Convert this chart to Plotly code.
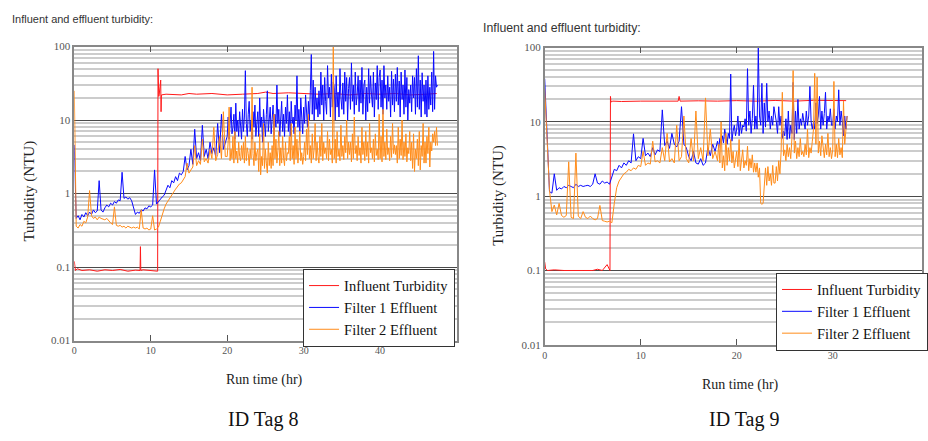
import plotly.graph_objects as go

# ---------------- ID Tag 8 ----------------
# Loggers store every 0.25 h for the first 20 h, then every 0.125 h.
T8_EARLY_STEP = 0.25
T8_LATE_START = 20.0
T8_LATE_STEP = 0.125

FILTER1_TAG8_EARLY = [
    4.6, 0.46, 0.5, 0.44, 0.52, 0.48, 0.55, 0.5,
    0.56, 0.52, 0.6, 0.55, 0.58, 1.5, 0.6, 0.56,
    0.64, 0.7, 0.66, 0.74, 0.7, 0.78, 0.74, 0.82,
    0.8, 1.95, 0.86, 0.9, 0.84, 0.88, 0.8, 0.62,
    0.52, 0.56, 0.54, 0.6, 0.58, 0.64, 0.62, 0.68,
    0.66, 0.7, 2.1, 0.72, 0.78, 0.85, 0.9, 0.95,
    1.1, 1.3, 1.2, 1.5, 1.4, 1.7, 1.5, 1.9,
    1.8, 2.0, 3.2, 2.1, 2.4, 4.0, 2.5, 7.5,
    3.0, 3.6, 2.8, 8.5, 3.2, 4.0, 3.0, 5.0,
    3.5, 4.2, 3.2, 9.0, 3.6, 12.0, 4.0, 5.0,
]
FILTER1_TAG8_LATE = [
    6, 11, 5.5, 9, 15, 6.5, 8, 12,
    5.5, 17, 7, 10, 6, 13, 8, 5.5,
    14, 7, 11, 47, 9, 6, 12, 18,
    7, 10, 5.5, 13, 8, 16, 6, 9,
    13, 6, 20, 8, 11, 5, 14, 9,
    6, 12, 25, 7, 10, 15, 6.5, 11,
    16, 6, 12, 8, 30, 9, 14, 6,
    10, 18, 7, 12, 6, 15, 9, 22,
    7, 13, 6, 18, 9, 11, 6.5, 16,
    10, 40, 8, 14, 7, 20, 11, 6.5,
    15, 9, 22, 12, 8, 18, 10, 25,
    78, 12, 35, 10, 28, 14, 20, 11,
    25, 12, 45, 16, 30, 10, 38, 18,
    12, 55, 20, 28, 11, 42, 15, 33,
    28, 10, 40, 15, 24, 11, 50, 20,
    14, 32, 12, 45, 18, 38, 10, 27,
    38, 14, 60, 18, 30, 12, 45, 16,
    22, 40, 13, 35, 17, 52, 12, 30,
    35, 10, 28, 13, 50, 17, 40, 22,
    15, 45, 11, 32, 19, 55, 14, 38,
    48, 15, 35, 12, 55, 20, 30, 14,
    40, 18, 28, 11, 46, 16, 36, 13,
    42, 18, 52, 16, 34, 11, 45, 19,
    30, 12, 48, 15, 38, 10, 26, 17,
    30, 13, 40, 20, 38, 12, 50, 15,
    75, 14, 35, 11, 44, 18, 30, 12,
    35, 11, 40, 14, 28, 16, 45, 13,
    86, 14, 40, 28, 30,
]
FILTER2_TAG8_EARLY = [
    25.0, 0.36, 0.34, 0.38, 0.36, 0.42, 0.4, 0.48,
    1.1, 0.5, 0.46, 0.48, 0.44, 0.48, 0.46, 0.45,
    0.44, 0.46, 0.42, 0.4, 0.38, 0.66, 0.37, 0.36,
    0.37, 0.35, 0.36, 0.34, 0.36, 0.35, 0.34, 0.35,
    0.34, 0.35, 0.33, 0.6, 0.34, 0.33, 0.34, 0.32,
    0.33, 0.5, 0.32, 0.33, 0.35, 0.42, 0.52, 0.62,
    0.72, 0.8, 0.88, 0.95, 1.05, 1.15, 1.25, 1.35,
    1.4, 1.55, 1.7, 2.6, 1.9, 2.1, 2.3, 4.5,
    2.4, 2.8, 2.5, 5.5, 2.7, 3.0, 2.6, 4.0,
    3.0, 8.0, 2.8, 3.4, 6.0, 3.0, 13.0, 3.2,
]
FILTER2_TAG8_LATE = [
    3.2, 5, 15, 2.8, 4, 3, 6, 2.6,
    7, 3, 3.8, 2.6, 5, 3.2, 2.8, 4.5,
    3, 5, 2.6, 6, 2.8, 4.2, 3.5, 2.4,
    4, 3, 28, 3.5, 2.4, 5, 2.8, 3.6,
    4, 2, 6.5, 1.8, 3.2, 2.4, 9, 2.2,
    4, 2.6, 1.9, 5, 2.4, 3.6, 2.2, 4.5,
    2.4, 12, 3, 5.5, 2.6, 3.8, 7, 2.4,
    4.2, 2.6, 6, 3, 2.4, 5, 2.8, 3.6,
    3.5, 6, 2.8, 9, 3, 4.5, 2.5, 8,
    3, 5.5, 2.6, 4, 7, 2.8, 3.6, 2.5,
    3.2, 5, 2.8, 7.5, 3.4, 12, 3, 4.5,
    2.6, 6.5, 3, 4, 9, 2.8, 5, 3.2,
    2.6, 6, 3.2, 9, 2.8, 5, 3.5, 4.2,
    3, 7, 2.8, 5.5, 3.4, 4, 2.6, 100,
    3, 5.5, 2.6, 7, 3.2, 4, 2.8, 8.5,
    3.2, 4.5, 2.9, 6, 3.6, 10, 3, 5,
    3.4, 5, 2.7, 6.5, 3, 11, 3.5, 4.5,
    2.8, 6, 3.3, 4.2, 2.6, 8, 3.4, 5,
    2.8, 7, 3.2, 5, 2.6, 9, 3.6, 4.2,
    3, 5.5, 2.7, 6.5, 3.3, 4, 2.9, 12,
    3, 6, 2.7, 14, 3.2, 5, 2.9, 7.5,
    3.4, 4.2, 2.8, 6, 3.1, 9, 3.5, 4.6,
    3.4, 4.5, 2.6, 8, 3, 5.5, 3.3, 10,
    2.9, 5, 3.2, 6.5, 2.7, 4.2, 3.5, 7,
    2.8, 5, 2.2, 6.5, 2, 4, 3, 5.5,
    2.4, 7, 2.1, 4.5, 3.2, 9, 2.6, 5,
    2.6, 6, 3.5, 8, 2.3, 5, 3.8, 6.5,
    5, 7, 4.5, 8, 4.5,
]
INFLUENT_TAG8_T = [0, 0.15, 0.4, 1, 2, 3, 4, 5, 6, 7, 8, 8.6, 8.65, 8.7, 9,
                   10, 10.9, 10.95, 11.05, 11.1, 11.3, 11.35, 11.4, 12, 14,
                   15, 16, 18, 20, 22, 24, 25, 26, 28, 30, 32, 34, 36, 38,
                   40, 42, 44, 46, 47.4]
INFLUENT_TAG8 = [0.12, 0.09, 0.095, 0.09, 0.092, 0.088, 0.092, 0.09, 0.093,
                 0.088, 0.091, 0.09, 0.19, 0.09, 0.092, 0.09, 0.088, 50, 21,
                 22, 35, 13, 22, 22.5, 22, 23, 22.5, 23, 22, 22.5, 23, 24, 23,
                 23.5, 23, 22.5, 23, 22, 23, 22.5, 23, 22, 22.5, 23]

# ---------------- ID Tag 9 ----------------
T9_EARLY_STEP = 0.25
T9_LATE_START = 18.0
T9_LATE_STEP = 0.125

FILTER1_TAG9_EARLY = [
    38.0, 5.0, 1.15, 1.1, 2.0, 1.2, 1.3, 1.25,
    1.35, 1.3, 1.4, 1.35, 1.3, 1.45, 1.35, 1.4,
    1.35, 1.38, 1.4, 1.35, 1.45, 2.0, 1.5, 1.45,
    1.6, 1.5, 1.55, 1.45, 1.9, 2.3, 2.2, 2.6,
    2.4, 2.8, 2.6, 3.0, 2.8, 6.9, 3.0, 3.4,
    3.2, 6.0, 3.5, 3.8, 3.4, 4.5, 3.6, 4.2,
    4.0, 14.5, 4.8, 5.5, 4.4, 7.0, 5.0, 4.6,
    5.5, 16.0, 5.0, 4.5, 3.4, 3.0, 4.0, 2.8,
    2.7, 3.2, 2.6, 2.8, 4.5, 3.5, 5.0, 4.0,
]
FILTER1_TAG9_LATE = [
    5.5, 4.5, 6, 5, 6.5, 5.2, 8, 6,
    5, 7, 6, 44, 5.5, 7.5, 9, 6.5,
    8, 12, 6.5, 10, 7, 9, 8.5, 11,
    7.5, 52, 9, 14, 7, 11, 31, 8,
    12, 8, 100, 12, 9, 33, 7, 18,
    8.5, 33, 10, 14, 8, 12, 9, 16,
    13, 10, 7, 16, 9, 12, 6, 7.5,
    6.5, 11, 5.8, 14, 6, 9, 7, 34,
    5.8, 14, 7, 20, 8, 11, 9, 13,
    10, 8, 14, 9, 12, 30, 10, 8,
    10, 8, 18, 9.5, 12, 22, 8, 14,
    9, 13, 25, 8, 12, 10, 15, 9,
    9, 15, 8, 12, 10, 27, 9, 14,
    10, 6.5, 12, 8, 12,
]
FILTER2_TAG9_EARLY = [
    28.0, 6.0, 1.2, 0.62, 0.76, 0.56, 0.8, 0.55,
    0.52, 0.55, 2.9, 0.52, 0.5, 3.8, 0.54, 0.5,
    0.62, 0.52, 0.5, 0.54, 0.5, 0.48, 0.5, 0.75,
    0.47, 0.46, 0.45, 0.46, 0.44, 0.8, 1.3, 1.6,
    1.8, 2.0, 2.1, 2.3, 2.2, 2.4, 2.3, 2.6,
    2.5, 4.0, 2.6, 2.8, 2.7, 5.5, 2.9, 3.0,
    2.8, 4.5, 3.0, 7.0, 2.9, 3.2, 2.8, 9.0,
    3.0, 3.4, 12.0, 3.2, 2.8, 6.0, 3.0, 14.0,
    3.2, 4.5, 3.0, 21.0, 3.5, 8.0, 3.2, 4.0,
]
FILTER2_TAG9_LATE = [
    3, 5, 2.8, 10, 2.4, 3.5, 2.2, 7,
    2.6, 4.5, 3, 5.8, 2.8, 4, 2.4, 3.4,
    4, 2.5, 5.8, 2.2, 3.5, 4.2, 2.4, 3,
    2.6, 4.7, 2.2, 3.2, 2.4, 3.6, 2.1, 2.8,
    2.1, 2.8, 1.8, 2.4, 0.8, 0.78, 0.8, 1.6,
    2.4, 1.4, 2.5, 1.6, 2, 1.4, 2.6, 1.5,
    1.5, 2.5, 1.6, 3, 2, 4, 25, 3.5,
    4.2, 3, 5, 3.4, 4.5, 3.2, 6, 49,
    3.8, 5.5, 3.2, 4.5, 3.4, 6, 3.6, 4,
    3.4, 5, 3.6, 8, 3.3, 4.5, 3.8, 5.5,
    8, 45, 5, 40, 3.8, 5.5, 3.5, 6.5,
    4, 3.3, 5, 3.6, 7, 3.4, 4.5, 3.2,
    4.2, 35, 3.4, 5, 3.3, 6, 3.6, 4.5,
    3.3, 19, 5, 8, 12,
]
INFLUENT_TAG9_T = [0, 0.1, 0.3, 1, 2, 3, 4, 5, 5.5, 6, 6.5, 6.8, 6.85, 6.9,
                   7.1, 8, 10, 12, 13.9, 14, 14.1, 16, 18, 20, 22, 24, 26, 28,
                   30, 31.4]
INFLUENT_TAG9 = [0.13, 0.105, 0.1, 0.102, 0.1, 0.101, 0.1, 0.1, 0.104, 0.1,
                 0.12, 0.1, 22, 18.5, 19, 18.8, 19, 19.2, 19, 22, 19, 19.2,
                 19, 19.3, 19, 19.4, 19, 19.5, 19.2, 19.3]

SERIES_NAMES = ["Influent Turbidity", "Filter 1 Effluent", "Filter 2 Effluent"]
COLORS = ["#ff1a1a", "#0a0aff", "#ff8c1a"]

Y_MAJOR = [0.01, 0.1, 1, 10, 100]
Y_MAJOR_TEXT = ["0.01", "0.1", "1", "10", "100"]
Y_MINOR = [m * d for d in (0.01, 0.1, 1, 10) for m in range(2, 10)]
X_TICKS_TAG8 = [0, 10, 20, 30, 40]
X_TICKS_TAG9 = [0, 10, 20, 30]

SERIF = "Liberation Serif, Times New Roman, serif"
SANS = "Liberation Sans, Arial, sans-serif"


def logger_times(early_step, n_early, late_start, late_step, n_late):
    """Sample times of a logger record that switches interval part-way."""
    early = [round(i * early_step, 4) for i in range(n_early)]
    late = [round(late_start + i * late_step, 4) for i in range(n_late)]
    return early + late


def effluent(early, late, early_step, late_start, late_step):
    t = logger_times(early_step, len(early), late_start, late_step, len(late))
    return t, early + late


fig = go.Figure()

panels = [
    ("x", "y", "legend", [
        (INFLUENT_TAG8_T, INFLUENT_TAG8),
        effluent(FILTER1_TAG8_EARLY, FILTER1_TAG8_LATE,
                 T8_EARLY_STEP, T8_LATE_START, T8_LATE_STEP),
        effluent(FILTER2_TAG8_EARLY, FILTER2_TAG8_LATE,
                 T8_EARLY_STEP, T8_LATE_START, T8_LATE_STEP),
    ]),
    ("x2", "y2", "legend2", [
        (INFLUENT_TAG9_T, INFLUENT_TAG9),
        effluent(FILTER1_TAG9_EARLY, FILTER1_TAG9_LATE,
                 T9_EARLY_STEP, T9_LATE_START, T9_LATE_STEP),
        effluent(FILTER2_TAG9_EARLY, FILTER2_TAG9_LATE,
                 T9_EARLY_STEP, T9_LATE_START, T9_LATE_STEP),
    ]),
]
for xa, ya, leg, series in panels:
    for name, color, (t, v) in zip(SERIES_NAMES, COLORS, series):
        fig.add_trace(go.Scatter(
            x=t, y=v, mode="lines", name=name, xaxis=xa, yaxis=ya,
            legend=leg, line=dict(color=color, width=1),
        ))


def x_axis(domain, rng, ticks, anchor):
    return dict(
        domain=domain, range=rng, anchor=anchor,
        tickmode="array", tickvals=ticks, ticktext=[str(t) for t in ticks],
        ticks="inside", ticklen=6, tickcolor="#555", mirror="allticks",
        showline=True, linecolor="#888", linewidth=1.5,
        showgrid=False, zeroline=False,
        tickfont=dict(family=SERIF, size=10, color="#555"),
    )


def y_axis(domain, anchor):
    return dict(
        domain=domain, type="log", range=[-2, 2], anchor=anchor,
        tickmode="array", tickvals=Y_MAJOR, ticktext=Y_MAJOR_TEXT,
        ticks="", showline=True, linecolor="#888", linewidth=1.5,
        mirror=True, zeroline=False,
        showgrid=True, gridcolor="#4a4a4a", gridwidth=1.2,
        minor=dict(tickvals=Y_MINOR, showgrid=True, gridcolor="#cccccc",
                   gridwidth=1.6, ticks=""),
        tickfont=dict(family=SERIF, size=11, color="#555"),
    )


legend_style = dict(
    bgcolor="white", bordercolor="#333", borderwidth=1,
    font=dict(family=SERIF, size=14.5, color="#111"),
    xanchor="left", yanchor="top", tracegroupgap=0,
    itemwidth=30,
)

W, H = 928, 441
fig.update_layout(
    width=W, height=H, margin=dict(l=0, r=0, t=0, b=0),
    paper_bgcolor="white", plot_bgcolor="white",
    xaxis=x_axis([72 / W, 458 / W], [0, 50], X_TICKS_TAG8, "y"),
    yaxis=y_axis([1 - 344 / H, 1 - 41.7 / H], "x"),
    xaxis2=x_axis([547 / W, 1.0], [0, 39.3], X_TICKS_TAG9, "y2"),
    yaxis2=y_axis([1 - 348.3 / H, 1 - 42.7 / H], "x2"),
    legend=dict(x=303 / W, y=1 - 270 / H, **legend_style),
    legend2=dict(x=781 / W, y=1 - 274 / H, **legend_style),
    showlegend=True,
)

annotations = [
    dict(text="Influent and effluent turbidity:", x=7 / W, y=1 - 13 / H,
         xanchor="left", yanchor="middle",
         font=dict(family=SANS, size=11, color="#333")),
    dict(text="Influent and effluent turbidity:", x=483 / W, y=1 - 22.5 / H,
         xanchor="left", yanchor="middle",
         font=dict(family=SANS, size=12.3, color="#333")),
    dict(text="Turbidity (NTU)", x=27 / W, y=1 - 190 / H, textangle=-90,
         xanchor="center", yanchor="middle",
         font=dict(family=SERIF, size=15, color="#222")),
    dict(text="Turbidity (NTU)", x=501 / W, y=1 - 195 / H, textangle=-90,
         xanchor="center", yanchor="middle",
         font=dict(family=SERIF, size=15, color="#222")),
    dict(text="Run time (hr)", x=264 / W, y=1 - 384 / H,
         xanchor="center", yanchor="middle",
         font=dict(family=SERIF, size=14, color="#222")),
    dict(text="Run time (hr)", x=745 / W, y=1 - 390 / H,
         xanchor="center", yanchor="middle",
         font=dict(family=SERIF, size=14, color="#222")),
    dict(text="ID Tag 8", x=263 / W, y=1 - 425 / H,
         xanchor="center", yanchor="middle",
         font=dict(family=SERIF, size=20, color="#111")),
    dict(text="ID Tag 9", x=748 / W, y=1 - 425 / H,
         xanchor="center", yanchor="middle",
         font=dict(family=SERIF, size=20, color="#111")),
]
for a in annotations:
    fig.add_annotation(xref="paper", yref="paper", showarrow=False, **a)

fig.write_html("out.html")
